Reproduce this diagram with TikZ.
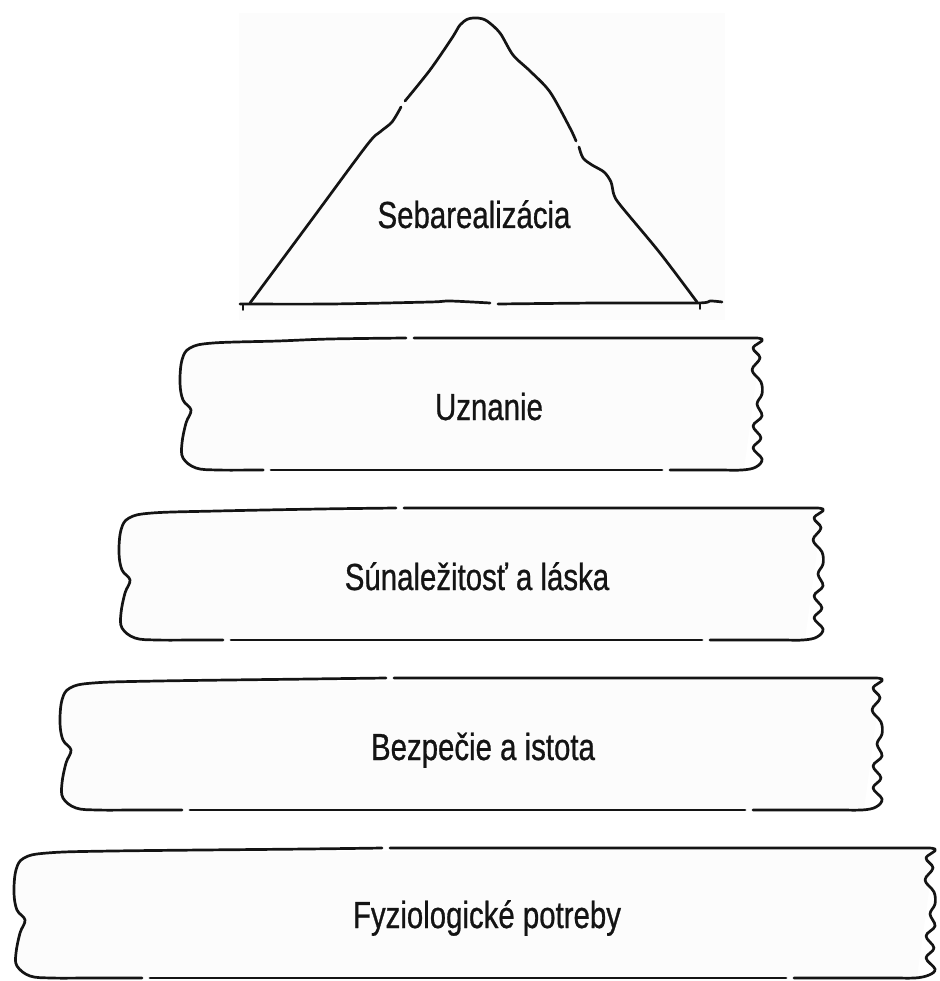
\documentclass[tikz,border=0pt]{standalone}
\usepackage{fontspec}
\newfontfamily\lblfont[FakeStretch=0.78,FakeBold=0.7]{Liberation Sans}
\definecolor{paper}{RGB}{252,252,252}
\definecolor{ink}{RGB}{20,20,20}
\tikzset{
  outline/.style={line width=2.7pt, line cap=round, line join=round, draw=ink},
  lbl/.style={font=\lblfont\fontsize{37.7}{44}\selectfont, inner sep=0pt, anchor=base, text=ink}
}
\newcommand\pyrbox[7]{%
  % #1 L, #2 R, #3 T, #4 B, #5 top gap x, #6 bottom gap 1 x, #7 bottom gap 2 x
  \fill[paper] plot[smooth,tension=0.6] coordinates {({#1+35},{#3+5}) ({#1+12},{#3+10}) ({#1+5},{#3+22}) ({#1+3},{#3+45}) ({#1+5},{#3+62}) ({#1+13},{#3+72}) ({#1+8},{#3+85}) ({#1+4},{#3+105}) ({#1+5},{#4-12}) ({#1+18},{#4-2}) ({#1+40},{#4})}
     -- ({#2-18},{#4}) -- ({#2},{#3}) -- cycle;
  \draw[outline] plot[smooth,tension=0.6] coordinates {({#6-4},{#4}) ({#1+80},{#4}) ({#1+40},{#4}) ({#1+18},{#4-2}) ({#1+5},{#4-12}) ({#1+4},{#3+105}) ({#1+8},{#3+85}) ({#1+13},{#3+72}) ({#1+5},{#3+62}) ({#1+2},{#3+45}) ({#1+4},{#3+22}) ({#1+12},{#3+10}) ({#1+35},{#3+5}) ({#1+100},{#3+3}) ({#5-80},{#3+1}) ({#5-4},{#3})};
  \draw[outline] plot[smooth,tension=0.6] coordinates {({#5+4},{#3}) ({#2-120},{#3}) ({#2-30},{#3}) ({#2},{#3+1}) ({#2-9},{#3+10}) ({#2-2},{#3+20}) ({#2-10},{#3+32}) ({#2-1},{#3+44}) ({#2},{#3+56}) ({#2-5},{#3+66}) ({#2},{#3+78}) ({#2-9},{#3+88}) ({#2-1},{#3+100}) ({#2-9},{#3+110}) ({#2},{#3+121}) ({#2-6},{#4-3}) ({#2-20},{#4}) ({#2-45},{#4}) ({#7+4},{#4})};
  \draw[outline] ({#7-4},{#4}) -- ({#6+4},{#4});
}
\begin{document}
\begin{tikzpicture}[x=1pt,y=-1pt]
\useasboundingbox (0,0) rectangle (939,981);
\fill[paper] (239,13) rectangle (725,320);
% top triangle
\draw[outline] plot[smooth,tension=0.5] coordinates {(250,303) (310,222) (367,145) (380,132) (392,122) (401,107)};
\draw[outline] plot[smooth,tension=0.5] coordinates {(405,101) (430,70) (452,38) (460,25) (468,19) (478,18) (487,21) (500,33) (513,55) (530,71) (550,92) (570,128) (576,141)};
\draw[outline] plot[smooth,tension=0.5] coordinates {(579,147) (583,158) (592,165) (604,172) (611,182) (614,195) (621,206) (660,253) (697,302)};
\draw[outline] plot[smooth,tension=0.5] coordinates {(240,304) (330,304) (430,302) (450,301) (490,303)};
\draw[outline] plot[smooth,tension=0.5] coordinates {(498,304) (600,303) (697,303) (710,301) (722,302)};
\draw[outline, line width=1.6pt] (243,304) -- (243,310);
\draw[outline, line width=1.6pt] (700,303) -- (700,309);
% boxes
\pyrbox{178}{762}{338}{470}{410}{267}{666}
\pyrbox{117}{823}{508}{640}{400}{227}{706}
\pyrbox{58}{882}{678}{810}{390}{186}{749}
\pyrbox{12}{935}{848}{978}{386}{146}{790}
% labels
\node[lbl] (n5) at (474,228) {Sebarealizácia};
\node[lbl] (n4) at (489,420) {Uznanie};
\node[lbl] (n3) at (477,590) {Súnaležitosť a láska};
\node[lbl] (n2) at (483,760) {Bezpečie a istota};
\node[lbl] (n1) at (487,928) {Fyziologické potreby};
\end{tikzpicture}
\end{document}
